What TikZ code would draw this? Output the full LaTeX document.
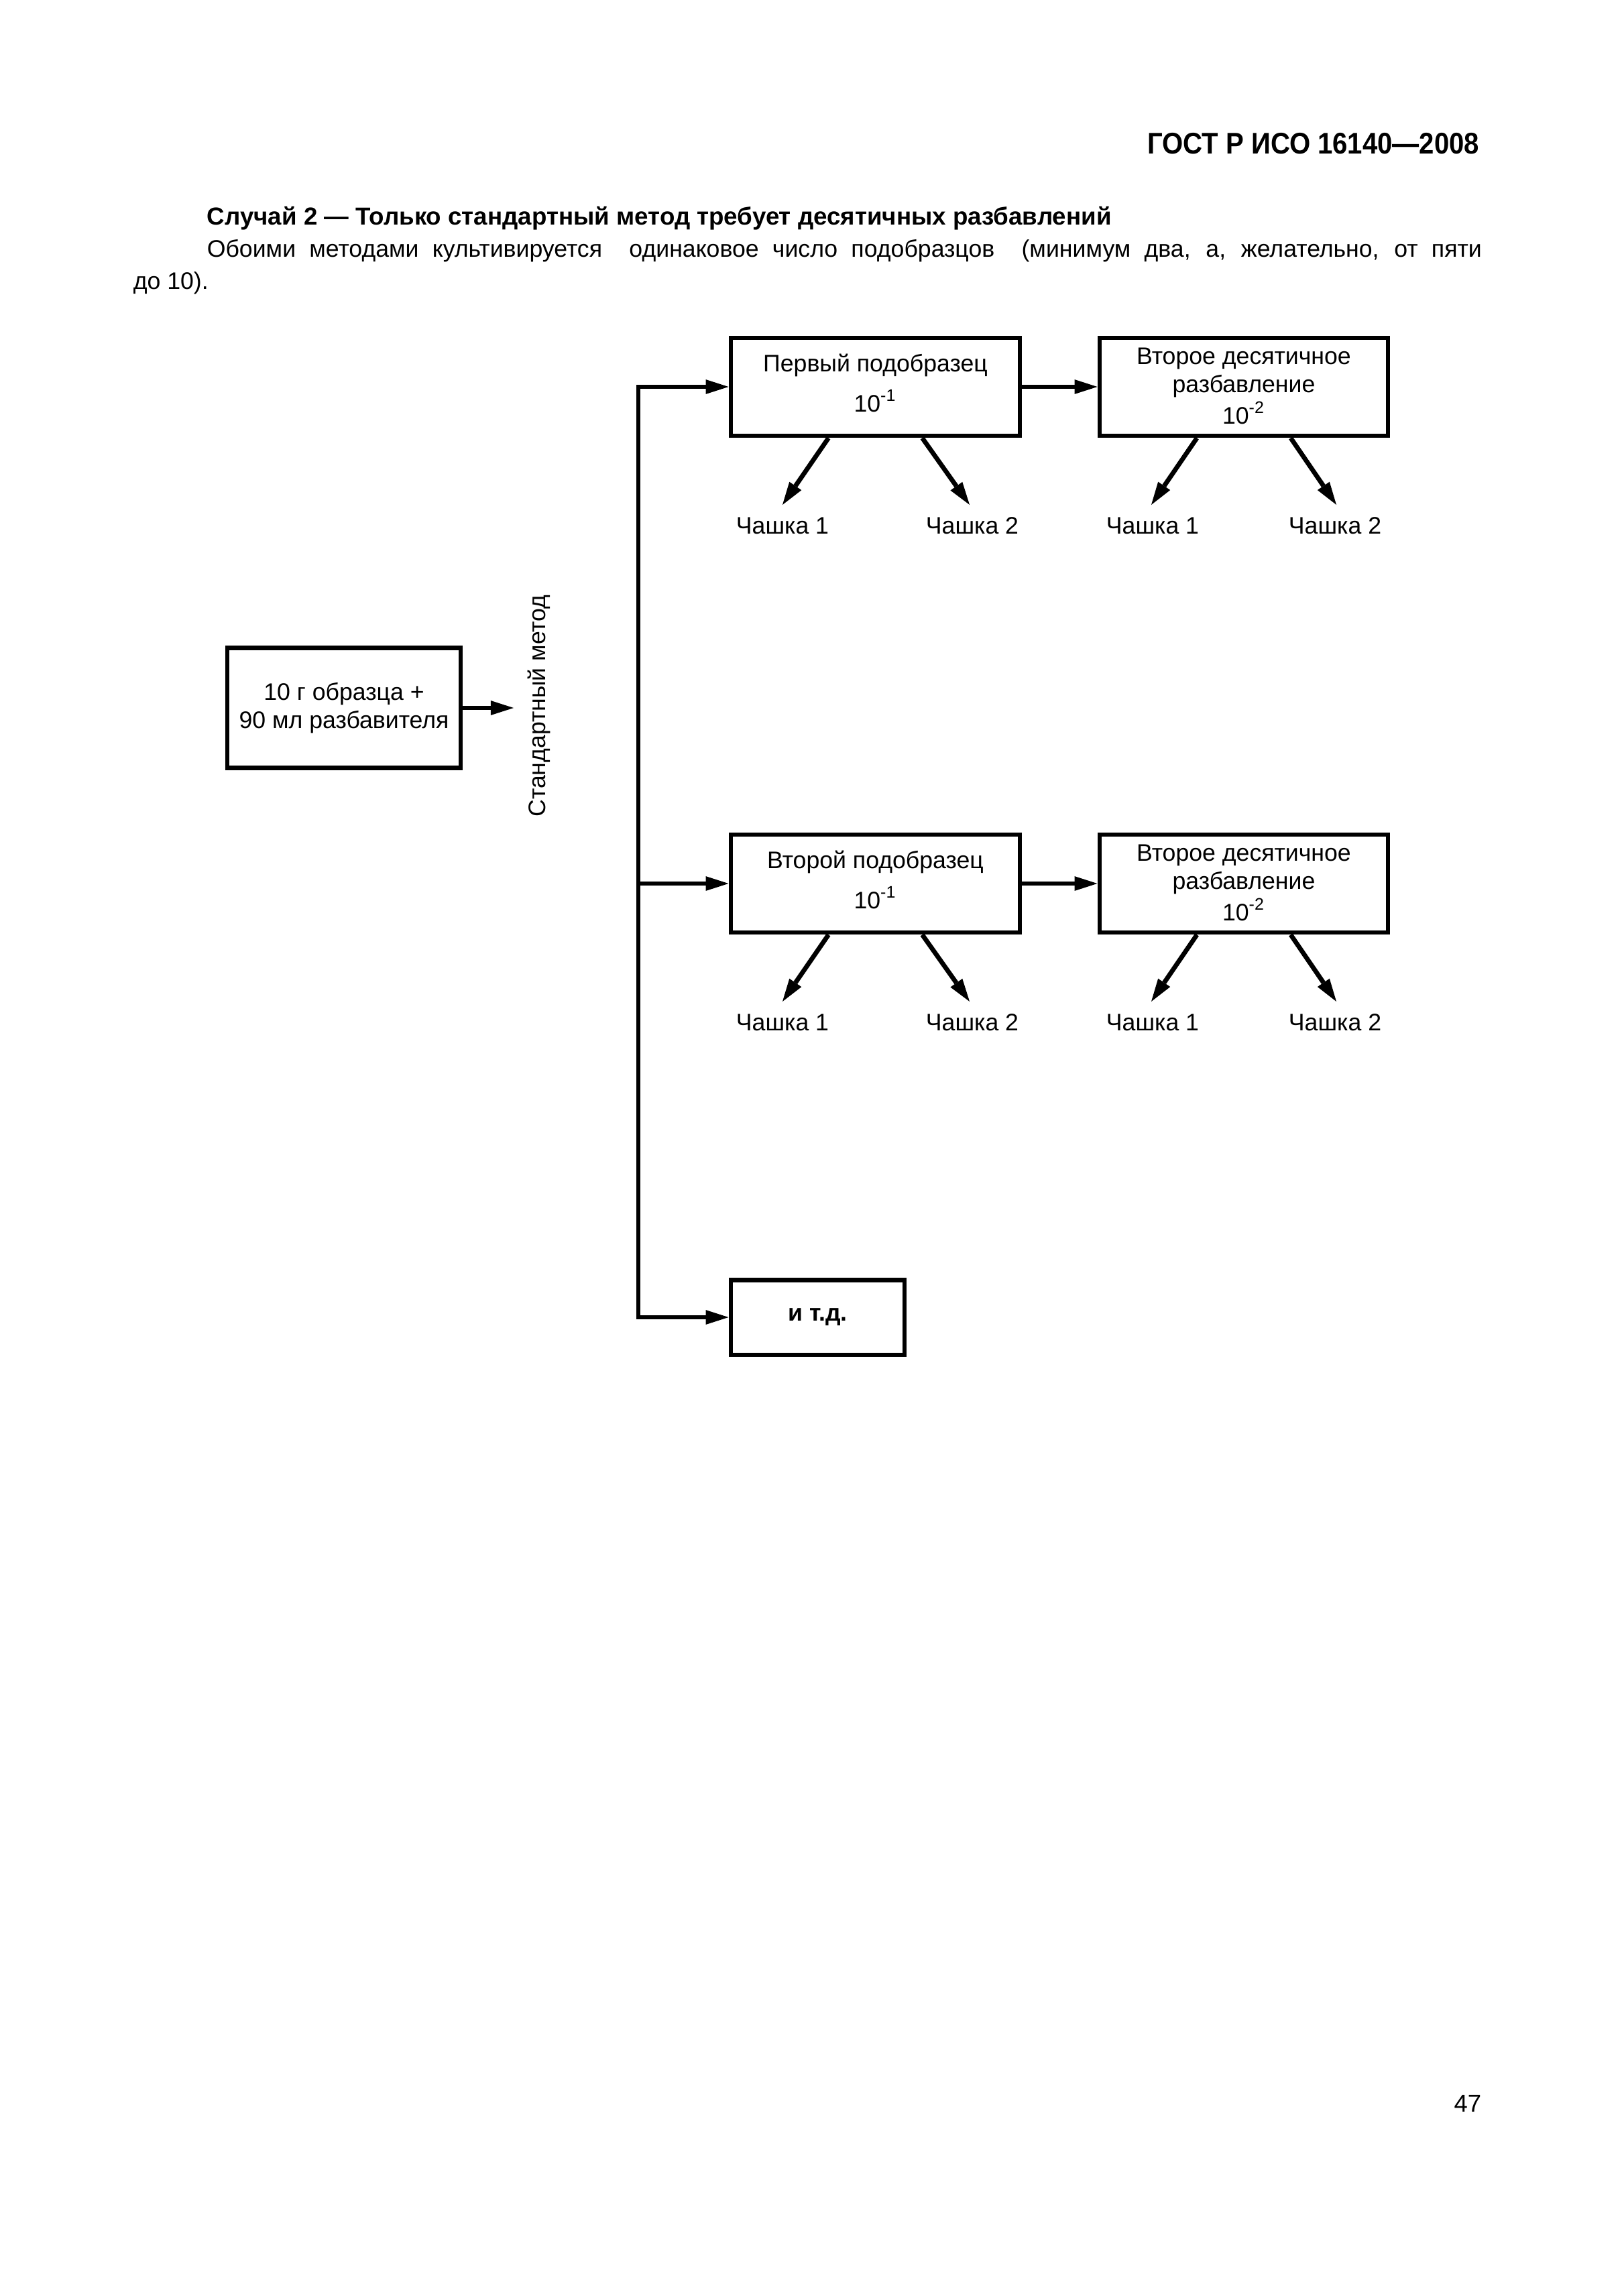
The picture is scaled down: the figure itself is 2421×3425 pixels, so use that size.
\documentclass[tikz,border=0pt]{standalone}
\usepackage{fontspec}
\setmainfont{Liberation Sans}
\usetikzlibrary{arrows.meta,calc}
\begin{document}
\begin{tikzpicture}[x=0.086741mm,y=-0.086741mm,
  every node/.style={font=\fontsize{8.8}{10.33}\selectfont, inner sep=0pt},
  box/.style={draw, line width=1.7pt, inner sep=0pt, align=center},
  subbox/.style={box, minimum width=37.39mm, minimum height=12.66mm},
  decbox/.style={box, minimum width=37.30mm, minimum height=12.66mm},
  conn/.style={line width=1.7pt},
  arr/.style={conn, -{Triangle[length=8.4pt,width=5.4pt,line width=0pt]}},
  txt/.style={anchor=base, outer sep=0pt},
  plate/.style={anchor=base, outer sep=0pt}]
\useasboundingbox (0,0) rectangle (2421,3425);

% header and text
\node[anchor=base east, font=\bfseries\fontsize{11}{12}\selectfont] (hdr) at (2207,229) {\scalebox{0.9}[1]{ГОСТ Р ИСО 16140—2008}};
\node[anchor=base west, font=\bfseries\fontsize{9.06}{10}\selectfont] (ttl) at (308,335) {Случай 2 — Только стандартный метод требует десятичных разбавлений};
\node[anchor=base west] (ln2) at (308,383) {\makebox[164.9mm][s]{Обоими методами культивируется \ одинаковое число подобразцов \ (минимум два, а, желательно, от пяти}};
\node[anchor=base west] (ln3) at (198,431) {до 10).};
\node[anchor=base east, font=\fontsize{9}{10}\selectfont] (pg) at (2210,3150) {47};

% start box
\node[box, minimum width=30.19mm, minimum height=15.6mm] (A) at (513,1056) {10 г образца +\\90 мл разбавителя};
\coordinate (aEnd) at (766,1056);
\draw[arr] (A.east) -- (aEnd);
\node[anchor=base, rotate=90] (sm) at (813,1053) {Стандартный метод};

% boxes
\node[subbox] (B1) at (1305.5,577) {};
\node[decbox] (C1) at (1855,577) {};
\node[subbox] (B2) at (1305.5,1318) {};
\node[decbox] (C2) at (1855,1318) {};
\node[box, minimum width=22.47mm, minimum height=9.71mm, font=\bfseries\fontsize{8.8}{10}\selectfont] (D) at (1219.5,1965) {и т.д.};

% box texts
\node[txt] (B1a) at ($(B1.center)+(0,-23)$) {Первый подобразец};
\node[txt] (B1b) at ($(B1.center)+(0,37)$) {10\textsuperscript{-1}};
\node[txt] (C1a) at ($(C1.center)+(0,-34)$) {Второе десятичное};
\node[txt] (C1b) at ($(C1.center)+(0,8)$) {разбавление};
\node[txt] (C1c) at ($(C1.center)+(0,55)$) {10\textsuperscript{-2}};
\node[txt] (B2a) at ($(B2.center)+(0,-23)$) {Второй подобразец};
\node[txt] (B2b) at ($(B2.center)+(0,37)$) {10\textsuperscript{-1}};
\node[txt] (C2a) at ($(C2.center)+(0,-34)$) {Второе десятичное};
\node[txt] (C2b) at ($(C2.center)+(0,8)$) {разбавление};
\node[txt] (C2c) at ($(C2.center)+(0,55)$) {10\textsuperscript{-2}};

% trunk
\coordinate (j1) at (952,577);
\coordinate (j2) at (952,1318);
\coordinate (j3) at (952,1965);
\draw[arr, line cap=rect] (j1) -- (j3) -- (D.west);
\draw[arr] (j1) -- (B1.west);
\draw[arr] (j2) -- (B2.west);
\draw[arr] (B1.east) -- (C1.west);
\draw[arr] (B2.east) -- (C2.west);

% plates row 1
\coordinate (t11) at (1167,753);
\coordinate (t12) at (1446,753);
\coordinate (t13) at (1717,753);
\coordinate (t14) at (1993,753);
\node[plate] (p11) at (1167,796) {Чашка 1};
\node[plate] (p12) at (1450,796) {Чашка 2};
\node[plate] (p13) at (1719,796) {Чашка 1};
\node[plate] (p14) at (1991,796) {Чашка 2};
\draw[arr] ([xshift=-6.07mm]B1.south) -- (t11);
\draw[arr] ([xshift=6.07mm]B1.south) -- (t12);
\draw[arr] ([xshift=-6.07mm]C1.south) -- (t13);
\draw[arr] ([xshift=6.07mm]C1.south) -- (t14);

% plates row 2
\coordinate (t21) at (1167,1494);
\coordinate (t22) at (1446,1494);
\coordinate (t23) at (1717,1494);
\coordinate (t24) at (1993,1494);
\node[plate] (p21) at (1167,1537) {Чашка 1};
\node[plate] (p22) at (1450,1537) {Чашка 2};
\node[plate] (p23) at (1719,1537) {Чашка 1};
\node[plate] (p24) at (1991,1537) {Чашка 2};
\draw[arr] ([xshift=-6.07mm]B2.south) -- (t21);
\draw[arr] ([xshift=6.07mm]B2.south) -- (t22);
\draw[arr] ([xshift=-6.07mm]C2.south) -- (t23);
\draw[arr] ([xshift=6.07mm]C2.south) -- (t24);
\end{tikzpicture}
\end{document}
